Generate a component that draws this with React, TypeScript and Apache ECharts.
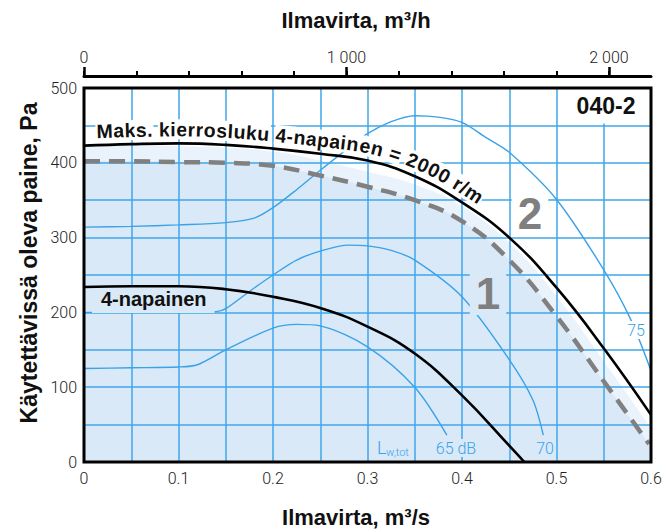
import React, { useEffect, useRef } from 'react';
import * as echarts from 'echarts';

// ---- data (flow in m³/s, pressure in Pa) ----
const maxCurveQ = [0, 0.05, 0.1, 0.15, 0.2, 0.25, 0.3, 0.35, 0.4, 0.45, 0.5, 0.55, 0.6];
const maxCurveP = [423, 425, 426, 424, 419, 412, 403, 382, 347, 300, 233, 152, 63];

const lowCurveQ = [0, 0.05, 0.1, 0.15, 0.2, 0.25, 0.3, 0.35, 0.4, 0.45, 0.466];
const lowCurveP = [234, 235, 235, 231, 221, 206, 181, 145, 89, 22, 0];

const dashedQ = [0, 0.05, 0.1, 0.15, 0.2, 0.25, 0.3, 0.35, 0.4, 0.45, 0.5, 0.55, 0.598];
const dashedP = [402, 402, 401, 400, 396, 383, 368, 350, 322, 270, 195, 108, 24];

const bandQ = [0, 0.05, 0.1, 0.15, 0.2, 0.25, 0.3, 0.35, 0.4, 0.45, 0.5, 0.55, 0.6];
const bandP = [423, 423, 422, 420, 415, 403, 388, 371, 342, 293, 222, 135, 45];

const lw65Q = [0, 0.05, 0.1, 0.12, 0.15, 0.2, 0.225, 0.25, 0.3, 0.35, 0.384];
const lw65P = [125, 126, 127, 130, 150, 179, 184, 182, 154, 100, 36];

const lw70Q = [0, 0.05, 0.1, 0.14, 0.15, 0.175, 0.2, 0.225, 0.25, 0.28, 0.3, 0.325, 0.35, 0.4, 0.45, 0.475, 0.486];
const lw70P = [200, 200, 200, 201, 205, 228, 250, 270, 282, 290, 289, 283, 270, 221, 137, 83, 36];

const lw75Q = [0, 0.05, 0.1, 0.15, 0.18, 0.2, 0.225, 0.25, 0.275, 0.3, 0.325, 0.35, 0.375, 0.4, 0.425, 0.45, 0.5, 0.55, 0.578, 0.6];
const lw75P = [314, 315, 317, 320, 326, 340, 364, 390, 415, 439, 455, 463, 461, 454, 434, 414, 351, 257, 192, 122];

// ---- tick labels ----
const flowTicks = [0, 0.1, 0.2, 0.3, 0.4, 0.5, 0.6];
const pressureTicks = [0, 100, 200, 300, 400, 500];
const hourTicks = [0, 1000, 2000];
const hourMinorTicks = [0, 200, 400, 600, 800, 1000, 1200, 1400, 1600, 1800, 2000];

const maxCurveLabel = 'Maks. kierrosluku 4-napainen = 2000 r/m';

const GRID_BLUE = '#3fa6ea';
const THIN_BLUE = '#3aa2e8';
const FILL_1 = '#d9e9f8';
const FILL_2 = '#eaf3fc';
const LIGHT = "Roboto, 'Liberation Sans', sans-serif";
const BOLD = "'Liberation Sans', Arial, sans-serif";

const zip = (xs: number[], ys: number[]) => xs.map((x, i) => [x, ys[i]]);

function curveTextElements(chart: any) {
  const pts: number[][] = maxCurveQ.map((q, i) =>
    chart.convertToPixel({ xAxisIndex: 0, yAxisIndex: 0 }, [q, maxCurveP[i]])
  );
  const dense: number[][] = [];
  for (let i = 0; i < pts.length - 1; i++) {
    const p0 = pts[Math.max(0, i - 1)], p1 = pts[i], p2 = pts[i + 1], p3 = pts[Math.min(pts.length - 1, i + 2)];
    for (let k = 0; k < 20; k++) {
      const t = k / 20, t2 = t * t, t3 = t2 * t;
      const f = (a: number, b: number, c: number, d: number) =>
        0.5 * (2 * b + (-a + c) * t + (2 * a - 5 * b + 4 * c - d) * t2 + (-a + 3 * b - 3 * c + d) * t3);
      dense.push([f(p0[0], p1[0], p2[0], p3[0]), f(p0[1], p1[1], p2[1], p3[1])]);
    }
  }
  dense.push(pts[pts.length - 1]);
  const cum: number[] = [0];
  for (let i = 1; i < dense.length; i++) {
    cum.push(cum[i - 1] + Math.hypot(dense[i][0] - dense[i - 1][0], dense[i][1] - dense[i - 1][1]));
  }
  const at = (s: number) => {
    let i = 1;
    while (i < cum.length - 1 && cum[i] < s) i++;
    const a = dense[i - 1], b = dense[i];
    const seg = cum[i] - cum[i - 1] || 1;
    const t = Math.max(0, Math.min(1, (s - cum[i - 1]) / seg));
    return [a[0] + (b[0] - a[0]) * t, a[1] + (b[1] - a[1]) * t];
  };
  let s0 = 0;
  for (let i = 0; i < dense.length; i++) {
    if (dense[i][0] >= 97) { s0 = cum[i]; break; }
  }
  const font = `700 19.5px ${BOLD}`;
  const ctx = document.createElement('canvas').getContext('2d') as CanvasRenderingContext2D;
  ctx.font = font;
  const spacing = 0.4;
  const off = 14;
  const els: any[] = [];
  let s = s0;
  for (const ch of maxCurveLabel) {
    const w = ctx.measureText(ch).width;
    const sc = s + w / 2;
    const p = at(sc);
    const pa = at(sc - 5), pb = at(sc + 5);
    const ang = Math.atan2(pb[1] - pa[1], pb[0] - pa[0]);
    if (ch !== ' ') {
      els.push({
        type: 'text',
        x: p[0] + Math.sin(ang) * off,
        y: p[1] - Math.cos(ang) * off,
        rotation: -ang,
        z: 6,
        style: {
          text: ch, font, fill: '#111', align: 'center', verticalAlign: 'middle',
          backgroundColor: '#ffffff', padding: [0, 1],
        },
      });
    }
    s += w + spacing;
  }
  return els;
}

export default function App() {
  const ref = useRef<HTMLDivElement>(null);
  useEffect(() => {
    if (!ref.current) return;
    const chart = echarts.init(ref.current, null, { renderer: 'svg' });
    const tickLabel = { color: '#222', fontSize: 16, fontFamily: LIGHT, fontWeight: 300 };
    const option: any = {
      animation: false,
      backgroundColor: '#ffffff',
      grid: {
        left: 84, right: 17, top: 88, bottom: 70, show: true,
        borderColor: '#000', borderWidth: 3, backgroundColor: 'transparent', z: 10,
      },
      xAxis: [
        {
          type: 'value', min: 0, max: 0.6, interval: 0.05, position: 'bottom', z: 3,
          axisLine: { show: false }, axisTick: { show: false },
          axisLabel: {
            ...tickLabel, margin: 8, customValues: flowTicks,
            formatter: (v: number) => (v === 0 ? '0' : v.toFixed(1)),
          },
          splitLine: { show: true, lineStyle: { color: GRID_BLUE, width: 1.5 } },
        },
        {
          type: 'value', min: 0, max: 2160, position: 'top', offset: 12, z: 3,
          axisLine: { show: true, lineStyle: { color: '#000', width: 3 } },
          axisTick: { show: true, customValues: hourMinorTicks, length: 5, lineStyle: { color: '#000', width: 2 } },
          axisLabel: {
            ...tickLabel, margin: 11, customValues: hourTicks,
            formatter: (v: number) => (v === 0 ? '0' : `${Math.round(v / 1000)} 000`),
          },
          splitLine: { show: false },
        },
        {
          type: 'value', min: 0, max: 2160, position: 'top', offset: 12, z: 3,
          axisLine: { show: false },
          axisTick: { show: true, customValues: hourTicks, length: 9, lineStyle: { color: '#000', width: 2.5 } },
          axisLabel: { show: false },
          splitLine: { show: false },
        },
      ],
      yAxis: {
        type: 'value', min: 0, max: 500, interval: 50, z: 3,
        axisLine: { show: false }, axisTick: { show: false },
        axisLabel: { ...tickLabel, margin: 7, customValues: pressureTicks },
        splitLine: { show: true, lineStyle: { color: GRID_BLUE, width: 1.5 } },
      },
      series: [
        {
          type: 'line', name: 'band', data: zip(bandQ, bandP), smooth: 0.45, symbol: 'none',
          lineStyle: { opacity: 0 }, areaStyle: { color: FILL_2, opacity: 1 }, z: 1, silent: true,
        },
        {
          type: 'line', name: 'area1', data: zip(dashedQ, dashedP), smooth: 0.45, symbol: 'none',
          lineStyle: { opacity: 0 }, areaStyle: { color: FILL_1, opacity: 1 }, z: 2, silent: true,
        },
        {
          type: 'line', name: '65 dB', data: zip(lw65Q, lw65P), smooth: 0.3, symbol: 'none',
          lineStyle: { color: THIN_BLUE, width: 1.4 }, z: 4, silent: true,
        },
        {
          type: 'line', name: '70 dB', data: zip(lw70Q, lw70P), smooth: 0.3, symbol: 'none',
          lineStyle: { color: THIN_BLUE, width: 1.4 }, z: 4, silent: true,
        },
        {
          type: 'line', name: '75 dB', data: zip(lw75Q, lw75P), smooth: 0.3, symbol: 'none',
          lineStyle: { color: THIN_BLUE, width: 1.4 }, z: 4, silent: true,
        },
        {
          type: 'line', name: 'curve1', data: zip(dashedQ, dashedP), smooth: 0.45, symbol: 'none',
          lineStyle: { color: '#808080', width: 4.5, type: [16, 9], cap: 'butt' }, z: 5, silent: true,
        },
        {
          type: 'line', name: 'max', data: zip(maxCurveQ, maxCurveP), smooth: 0.45, symbol: 'none',
          lineStyle: { color: '#000', width: 2.6 }, z: 7, silent: true,
        },
        {
          type: 'line', name: '4-napainen', data: zip(lowCurveQ, lowCurveP), smooth: 0.45, symbol: 'none',
          lineStyle: { color: '#000', width: 2.6 }, z: 7, silent: true,
        },
      ],
    };
    chart.setOption(option);

    const titleFont = `700 22px ${BOLD}`;
    const blueFont = `300 16px ${LIGHT}`;
    const elements: any[] = [
      { type: 'text', x: 356, y: 20, z: 6, style: { text: 'Ilmavirta, m³/h', font: titleFont, fill: '#111', align: 'center', verticalAlign: 'middle' } },
      { type: 'text', x: 356, y: 517, z: 6, style: { text: 'Ilmavirta, m³/s', font: titleFont, fill: '#111', align: 'center', verticalAlign: 'middle' } },
      { type: 'text', x: 29, y: 263, rotation: Math.PI / 2, z: 6, style: { text: 'Käytettävissä oleva paine, Pa', font: `700 23px ${BOLD}`, fill: '#111', align: 'center', verticalAlign: 'middle' } },
      { type: 'text', x: 606, y: 106, z: 6, style: { text: '040-2', font: `700 23px ${BOLD}`, fill: '#111', align: 'center', verticalAlign: 'middle', backgroundColor: '#ffffff', padding: [6, 8] } },
      { type: 'text', x: 530, y: 213, z: 6, style: { text: '2', font: `700 44px ${BOLD}`, fill: '#7f7f7f', align: 'center', verticalAlign: 'middle', backgroundColor: '#ffffff', padding: [0, 6] } },
      { type: 'text', x: 488, y: 293, z: 6, style: { text: '1', font: `700 44px ${BOLD}`, fill: '#7f7f7f', align: 'center', verticalAlign: 'middle', backgroundColor: FILL_1, padding: [0, 6] } },
      { type: 'text', x: 92, y: 299, z: 6, style: { text: '4-napainen', font: `700 20px ${BOLD}`, fill: '#111', align: 'left', verticalAlign: 'middle', backgroundColor: FILL_1, padding: [4, 8, 4, 9] } },
      { type: 'text', x: 377, y: 447, z: 6, style: { text: 'L', font: `300 18px ${LIGHT}`, fill: THIN_BLUE, align: 'left', verticalAlign: 'middle' } },
      { type: 'text', x: 386, y: 452, z: 6, style: { text: 'w,tot', font: `300 11px ${LIGHT}`, fill: THIN_BLUE, align: 'left', verticalAlign: 'middle' } },
      { type: 'text', x: 456, y: 448, z: 6, style: { text: '65 dB', font: blueFont, fill: THIN_BLUE, align: 'center', verticalAlign: 'middle', backgroundColor: FILL_1, padding: [1, 2] } },
      { type: 'text', x: 545, y: 448, z: 6, style: { text: '70', font: blueFont, fill: THIN_BLUE, align: 'center', verticalAlign: 'middle', backgroundColor: FILL_1, padding: [1, 2] } },
      { type: 'text', x: 636, y: 330, z: 6, style: { text: '75', font: blueFont, fill: THIN_BLUE, align: 'center', verticalAlign: 'middle', backgroundColor: '#ffffff', padding: [1, 1] } },
      ...curveTextElements(chart),
    ];
    chart.setOption({ graphic: elements });
    return () => chart.dispose();
  }, []);
  return <div ref={ref} style={{ position: 'fixed', left: 0, top: 0, width: 668, height: 532 }} />;
}
